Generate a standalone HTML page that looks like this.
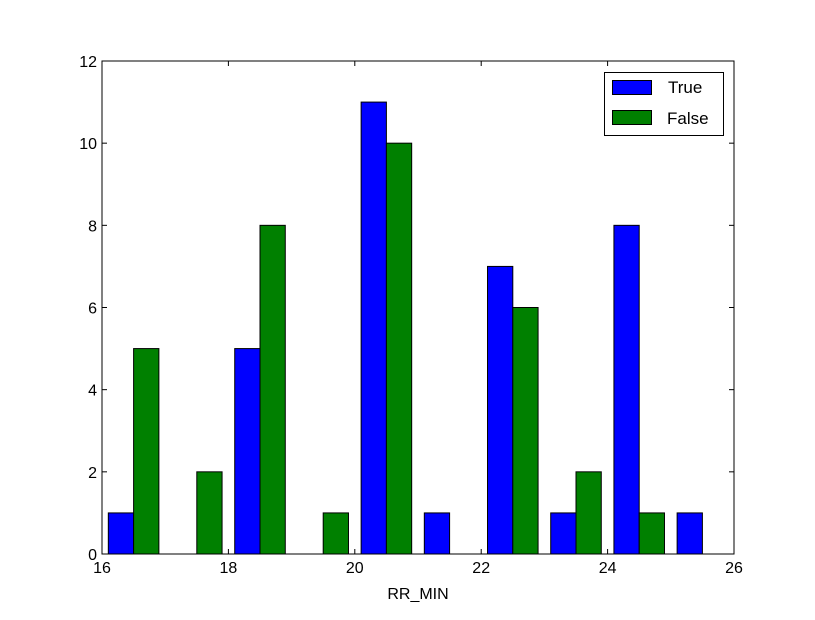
<!DOCTYPE html>
<html><head><meta charset="utf-8"><style>
body{margin:0;background:#fff;}
svg text{font-family:"Liberation Sans","DejaVu Sans",sans-serif;}
</style></head><body>
<svg id="chart" width="815" height="615" xmlns="http://www.w3.org/2000/svg">
<rect width="815" height="615" fill="#fff"/>
<g id="bars"></g>
<g id="axes"></g>
</svg>
<script>
const binStarts=[16,17,18,19,20,21,22,23,24,25];
const trueCounts=[1,0,5,0,11,1,7,1,8,1];
const falseCounts=[5,2,8,1,10,0,6,2,1,0];
const xTicks=[16,18,20,22,24,26];
const yTicks=[0,2,4,6,8,10,12];
const X0=102,X1=734,Y0=554,Y1=61;
const xs=v=>X0+(v-16)/(26-16)*(X1-X0);
const ys=v=>Y0-(v/12)*(Y0-Y1);
const NS="http://www.w3.org/2000/svg";
const bars=document.getElementById('bars');
const axes=document.getElementById('axes');
function mk(tag,attrs,parent){const e=document.createElementNS(NS,tag);for(const k in attrs)e.setAttribute(k,attrs[k]);parent.appendChild(e);return e;}
binStarts.forEach((b,i)=>{
  const r1=mk('rect',{x:xs(b+0.1),y:ys(trueCounts[i]),width:xs(b+0.5)-xs(b+0.1),height:ys(0)-ys(trueCounts[i]),fill:'#0000ff',stroke:'#000','stroke-width':1},bars);
  
  
  const r2=mk('rect',{x:xs(b+0.5),y:ys(falseCounts[i]),width:xs(b+0.9)-xs(b+0.5),height:ys(0)-ys(falseCounts[i]),fill:'#008000',stroke:'#000','stroke-width':1},bars);
  
  
});
const frame=mk('rect',{x:X0,y:Y1,width:X1-X0,height:Y0-Y1,fill:'none',stroke:'#000','stroke-width':1},axes);


xTicks.forEach(t=>{
  const x=xs(t);
  mk('line',{x1:x,y1:Y0,x2:x,y2:Y0-5,stroke:'#000'},axes);
  mk('line',{x1:x,y1:Y1,x2:x,y2:Y1+5,stroke:'#000'},axes);
  const tx=mk('text',{x:x,y:Y0+19,'text-anchor':'middle','font-size':16},axes);
  tx.textContent=t;
  
  
});
yTicks.forEach(t=>{
  const y=ys(t);
  mk('line',{x1:X0,y1:y,x2:X0+5,y2:y,stroke:'#000'},axes);
  mk('line',{x1:X1,y1:y,x2:X1-5,y2:y,stroke:'#000'},axes);
  const tx=mk('text',{x:X0-5,y:y+6,'text-anchor':'end','font-size':16},axes);
  tx.textContent=t;
  
  
});
</script>
<svg style="position:absolute;left:0;top:0" width="815" height="615">
<text x="418" y="599" text-anchor="middle" font-size="16" font-family="Liberation Sans, sans-serif">RR_MIN</text>
<g>
<rect x="604.5" y="72.5" width="119" height="63" fill="#fff" stroke="#000"/>
<rect x="612.5" y="80.5" width="39" height="14" fill="#0000ff" stroke="#000"/>
<text x="668" y="93" font-size="17" font-family="Liberation Sans, sans-serif">True</text>
<rect x="612.5" y="110.5" width="39" height="14" fill="#008000" stroke="#000"/>
<text x="667" y="124" font-size="17" font-family="Liberation Sans, sans-serif">False</text>
</g>
</svg>
</body></html>
